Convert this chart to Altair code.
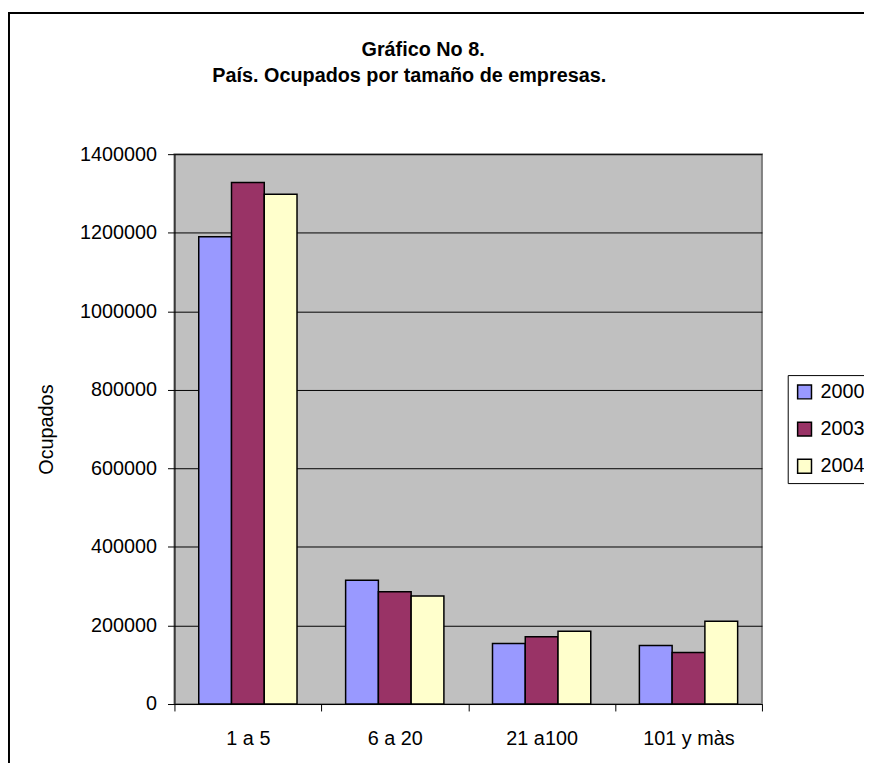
import altair as alt
import pandas as pd

categories = ["1 a 5", "6 a 20", "21 a100", "101 y màs"]
years = ["2000", "2003", "2004"]
v2000 = [1190000, 315000, 154000, 149000]
v2003 = [1328000, 286000, 171000, 131000]
v2004 = [1298000, 275000, 185000, 211000]
colors = ["#9999FF", "#993366", "#FFFFCC"]
y_ticks = [0, 200000, 400000, 600000, 800000, 1000000, 1200000, 1400000]
title_line1 = "Gráfico No 8."
title_line2 = "País. Ocupados por tamaño de empresas."
y_title = "Ocupados"

rows = []
for yr, vals in zip(years, [v2000, v2003, v2004]):
    for c, v in zip(categories, vals):
        rows.append({"Tamaño": c, "Año": yr, "Ocupados": v})
df = pd.DataFrame(rows)

FONT = "Liberation Sans"

bars = alt.Chart(df).mark_bar(stroke="black", strokeWidth=1.5).encode(
    x=alt.X(
        "Tamaño:N",
        sort=categories,
        scale=alt.Scale(paddingInner=0, paddingOuter=0),
        axis=alt.Axis(
            title=None, labelAngle=0, tickBand="extent", tickSize=7, labelPadding=18,
            labelFontSize=20, labelFont=FONT, labelColor="black", grid=False,
            domainColor="black", tickColor="black", domainWidth=1, tickWidth=1,
        ),
    ),
    xOffset=alt.XOffset("Año:N", sort=years, scale=alt.Scale(paddingInner=0, paddingOuter=0.742)),
    y=alt.Y(
        "Ocupados:Q",
        scale=alt.Scale(domain=[0, 1400000], nice=False),
        axis=alt.Axis(
            title=y_title, values=y_ticks, format="d", tickSize=7, labelPadding=11,
            labelFontSize=20, labelFont=FONT, labelColor="black",
            titleFontSize=20, titleFont=FONT, titleFontWeight="normal", titleColor="black",
            titlePadding=23, grid=True, gridColor="black", gridWidth=1,
            domainColor="black", tickColor="black", domainWidth=1, tickWidth=1,
        ),
    ),
    color=alt.Color(
        "Año:N",
        scale=alt.Scale(domain=years, range=colors),
        legend=alt.Legend(
            title=None, orient="none", legendX=619, legendY=223,
            strokeColor="black", fillColor="white", padding=7,
            symbolType="square", symbolSize=196, symbolStrokeColor="black",
            symbolStrokeWidth=1.5, symbolOpacity=1,
            labelFontSize=20, labelFont=FONT, labelColor="black",
            rowPadding=17.5, labelOffset=6, cornerRadius=0,
        ),
    ),
)

one = pd.DataFrame({"k": [0]})
left_rule = alt.Chart(one).mark_rule(color="black", strokeWidth=2).encode(
    x=alt.value(-167), y=alt.value(-142.5), y2=alt.value(700)
)
top_rule = alt.Chart(one).mark_rule(color="black", strokeWidth=2).encode(
    x=alt.value(-168), x2=alt.value(800), y=alt.value(-142.5)
)
title1 = alt.Chart(one).mark_text(
    text=title_line1, font=FONT, fontSize=20, fontWeight="bold", color="black",
    align="center", baseline="alphabetic",
).encode(x=alt.value(251), y=alt.value(-99))
title2 = alt.Chart(one).mark_text(
    text=title_line2, font=FONT, fontSize=20, fontWeight="bold", color="black",
    align="center", baseline="alphabetic",
).encode(x=alt.value(237), y=alt.value(-73))

chart = alt.layer(left_rule, top_rule, title1, title2, bars).properties(
    width=593,
    height=555,
    padding={"left": 168, "top": 144, "right": 103, "bottom": 56},
    autosize="none",
    background="white",
).configure_view(fill="#C0C0C0", stroke="#808080", strokeWidth=2)

chart.save("out.html", embed_options={"renderer": "svg", "actions": False})
